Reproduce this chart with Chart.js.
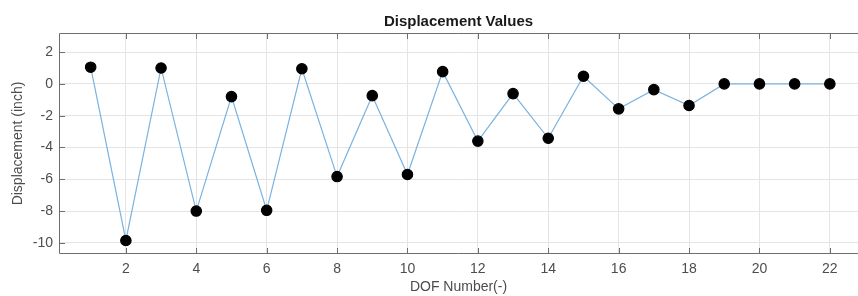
<!DOCTYPE html>
<html>
<head>
<meta charset="utf-8">
<script src="https://cdn.jsdelivr.net/npm/chart.js@4/dist/chart.umd.min.js"></script>
<style>
  html, body { margin: 0; padding: 0; background: #fff; }
  #wrap { width: 858px; height: 296px; }
</style>
</head>
<body>
<div id="wrap"><canvas id="myChart" width="858" height="296"></canvas></div>
<script>
var dof = [1, 2, 3, 4, 5, 6, 7, 8, 9, 10, 11, 12, 13, 14, 15, 16, 17, 18, 19, 20, 21, 22];
var displacement = [1.05, -9.85, 1.0, -8.0, -0.8, -7.95, 0.95, -5.83, -0.74, -5.7, 0.77, -3.6, -0.61, -3.42, 0.48, -1.57, -0.36, -1.36, 0, 0, 0, 0];
var xTicks = [2, 4, 6, 8, 10, 12, 14, 16, 18, 20, 22];
var yTicks = [-10, -8, -6, -4, -2, 0, 2];

var points = dof.map(function (d, i) { return { x: d, y: displacement[i] }; });

// box round the plot and short inward ticks, like MATLAB axes
var boxPlugin = {
    id: 'box',
    afterDraw: function (chart) {
        var c = chart.ctx, a = chart.chartArea;
        var xs = chart.scales.x, ys = chart.scales.y;
        c.save();
        c.strokeStyle = '#6e6e6e';
        c.lineWidth = 1;
        c.beginPath();
        c.moveTo(a.right, a.top + 0.5);
        c.lineTo(a.left + 0.5, a.top + 0.5);
        c.lineTo(a.left + 0.5, a.bottom - 0.5);
        c.lineTo(a.right, a.bottom - 0.5);
        xTicks.forEach(function (v) {
            var px = Math.round(xs.getPixelForValue(v)) + 0.5;
            c.moveTo(px, a.bottom); c.lineTo(px, a.bottom - 6);
            c.moveTo(px, a.top); c.lineTo(px, a.top + 6);
        });
        yTicks.forEach(function (v) {
            var py = Math.round(ys.getPixelForValue(v)) + 0.5;
            c.moveTo(a.left, py); c.lineTo(a.left + 6, py);
        });
        c.stroke();
        c.restore();
    }
};

var ctx = document.getElementById('myChart').getContext('2d');
var myChart = new Chart(ctx, {
    type: 'line',
    data: {
        datasets: [{
            data: points,
            borderColor: '#7ab3e0',
            borderWidth: 1.2,
            pointBackgroundColor: '#000',
            pointBorderColor: '#000',
            pointRadius: 5.2,
            tension: 0
        }]
    },
    options: {
        responsive: false,
        animation: false,
        layout: { padding: 0, autoPadding: false },
        plugins: {
            legend: { display: false },
            tooltip: { enabled: false }
        },
        scales: {
            x: {
                type: 'linear',
                min: 0.1,
                max: 22.8,
                afterBuildTicks: function (s) { s.ticks = xTicks.map(function (v) { return { value: v }; }); },
                afterFit: function (s) { s.height = 42; s.paddingLeft = 0; s.paddingRight = 0; },
                grid: { color: '#e4e4e4', drawTicks: false },
                border: { display: false },
                ticks: {
                    color: '#4d4d4d',
                    padding: 7,
                    font: { family: 'Liberation Sans', size: 14 }
                },
                title: {
                    display: true,
                    text: 'DOF Number(-)',
                    color: '#4d4d4d',
                    padding: { top: 1, bottom: 0 },
                    font: { family: 'Liberation Sans', size: 14 }
                }
            },
            // top axis only carries the title, centred over the plot
            top: {
                type: 'linear',
                position: 'top',
                min: 0.1,
                max: 22.8,
                afterFit: function (s) { s.height = 33; s.paddingLeft = 0; s.paddingRight = 0; },
                grid: { display: false },
                border: { display: false },
                ticks: { display: false },
                title: {
                    display: true,
                    text: 'Displacement Values',
                    color: '#1a1a1a',
                    padding: { top: 13, bottom: 0 },
                    font: { family: 'Liberation Sans', size: 15, weight: 'bold' }
                }
            },
            y: {
                min: -10.7,
                max: 3.2,
                afterBuildTicks: function (s) { s.ticks = yTicks.map(function (v) { return { value: v }; }); },
                afterFit: function (s) { s.width = 59; },
                grid: { color: '#e4e4e4', drawTicks: false },
                border: { display: false },
                ticks: {
                    color: '#4d4d4d',
                    padding: 6,
                    font: { family: 'Liberation Sans', size: 14 }
                },
                title: {
                    display: true,
                    text: 'Displacement (inch)',
                    color: '#4d4d4d',
                    padding: { top: 10, bottom: 0 },
                    font: { family: 'Liberation Sans', size: 14 }
                }
            }
        }
    },
    plugins: [boxPlugin]
});
</script>
</body>
</html>
